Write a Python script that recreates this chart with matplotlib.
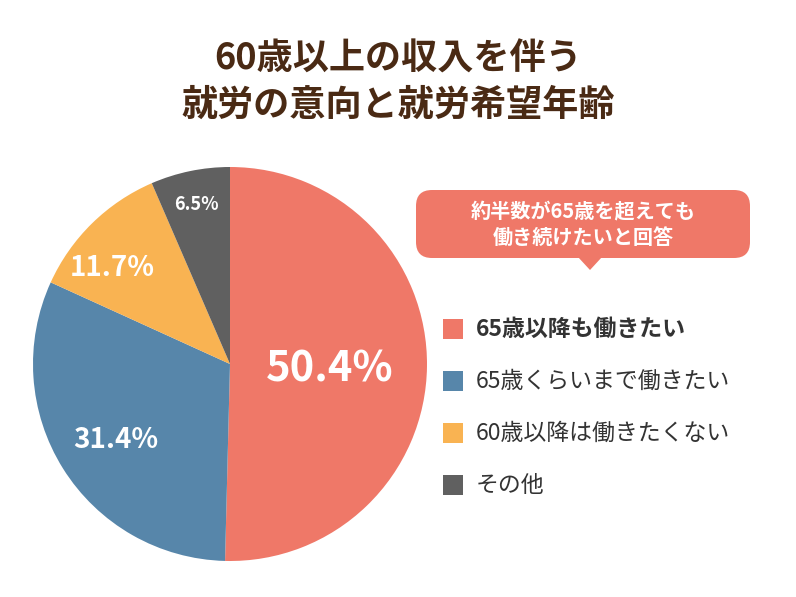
import matplotlib
matplotlib.use("Agg")
import matplotlib.pyplot as plt
from matplotlib.patches import FancyBboxPatch, Polygon, Rectangle

categories = ["65歳以降も働きたい", "65歳くらいまで働きたい", "60歳以降は働きたくない", "その他"]
values = [50.4, 31.4, 11.7, 6.5]
colors = ["#EF7868", "#5786AA", "#F9B352", "#606060"]
title = "60歳以上の収入を伴う\n就労の意向と就労希望年齢"
callout = "約半数が65歳を超えても\n働き続けたいと回答"

FONT = "Noto Sans CJK JP"
W, H = 796, 597
fig = plt.figure(figsize=(7.96, 5.97), dpi=100)
ax = fig.add_axes([0, 0, 1, 1])
Y = lambda py: H - py

cx, cy, r = 230, Y(364), 197
ax.pie(values, colors=colors, startangle=90, counterclock=False, center=(cx, cy),
       radius=r, wedgeprops=dict(linewidth=0), frame=True)
ax.set_xlim(0, W); ax.set_ylim(0, H); ax.set_aspect("equal"); ax.axis("off")

ax.text(398, Y(82), title, ha="center", va="center", fontsize=26, fontweight="bold",
        color="#4A2A14", family=FONT, linespacing=1.3)

lbls = [(330, 370, 30), (116, 440, 20), (112, 268, 20), (196, 205, 13)]
for v, (x, y, s) in zip(values, lbls):
    ax.text(x, Y(y), f"{v}%", ha="center", va="center", fontsize=s, fontweight="bold",
            color="white", family=FONT)

# callout
ax.add_patch(FancyBboxPatch((416, Y(258)), 334, 68, boxstyle="round,pad=0,rounding_size=16",
                            fc="#EF7868", ec="none"))
ax.add_patch(Polygon([(578, Y(257)), (602, Y(257)), (590, Y(270))], fc="#EF7868", ec="none"))
ax.text(583, Y(224), callout, ha="center", va="center", fontsize=14.5, fontweight="bold",
        color="white", family=FONT, linespacing=1.35)

for i, (c, col) in enumerate(zip(categories, colors)):
    y = 329 + i * 52
    ax.add_patch(Rectangle((443, Y(y) - 10), 20, 20, fc=col, ec="none"))
    ax.text(476, Y(y), c, ha="left", va="center", fontsize=16.5, color="#333333", family=FONT,
            fontweight="bold" if i == 0 else "normal")

fig.savefig("out.png", dpi=100, facecolor="white")
